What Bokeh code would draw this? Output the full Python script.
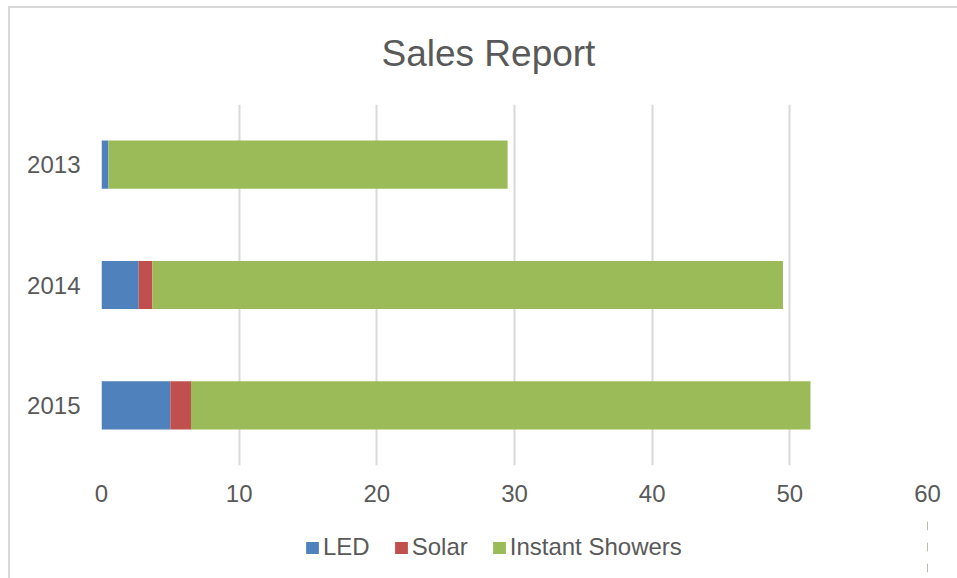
from bokeh.plotting import figure
from bokeh.models import ColumnDataSource, Range1d, FactorRange, Legend, LegendItem
from bokeh.layouts import column
from bokeh.embed import file_html
from bokeh.resources import INLINE

# Data
years = ["2013", "2014", "2015"]
led = [0.5, 2.7, 5.0]
solar = [0.0, 1.0, 1.5]
instant_showers = [29.0, 45.8, 45.0]
series_names = ["LED", "Solar", "Instant Showers"]
colors = ["#4F81BD", "#C0504D", "#9BBB59"]
x_ticks = [0, 10, 20, 30, 40, 50, 60]

FONT = "Liberation Sans"
TXT = "#595959"
GRID = "#d9d9d9"

src = ColumnDataSource(dict(year=years, LED=led, Solar=solar, IS=instant_showers))

border_bg = ("linear-gradient(#d9d9d9, #d9d9d9) 8px 6px / 2px 100% no-repeat, "
             "linear-gradient(#d9d9d9, #d9d9d9) 8px 6px / 100% 2px no-repeat")

p = figure(
    width=957, height=515,
    y_range=FactorRange(factors=years[::-1], range_padding=0),
    x_range=Range1d(0, 60),
    output_backend="svg", toolbar_location=None,
    min_border_left=101, min_border_right=30, min_border_top=103, min_border_bottom=50,
    title="Sales Report",
    border_fill_color=None,
)
p.outline_line_color = None

renderers = p.hbar_stack(["LED", "Solar", "IS"], y="year", height=0.4, color=colors,
                         line_color=None, source=src)

# Title
p.title.text_font = FONT
p.title.text_font_size = "37px"
p.title.text_font_style = "normal"
p.title.text_color = TXT
p.title.align = "left"
p.title.offset = 280
p.title.standoff = 61

# Axes
p.xaxis.ticker = x_ticks
p.xaxis.axis_line_color = None
p.xaxis.major_tick_line_color = None
p.xaxis.minor_tick_line_color = None
p.xaxis.major_tick_out = 0
p.xaxis.major_label_standoff = 19
p.xaxis.major_label_text_font = FONT
p.xaxis.major_label_text_font_size = "24px"
p.xaxis.major_label_text_color = TXT

p.yaxis.axis_line_color = None
p.yaxis.major_tick_line_color = None
p.yaxis.minor_tick_line_color = None
p.yaxis.major_tick_out = 0
p.yaxis.major_label_standoff = 21
p.yaxis.major_label_text_font = FONT
p.yaxis.major_label_text_font_size = "24px"
p.yaxis.major_label_text_color = TXT

p.xgrid.grid_line_color = GRID
p.xgrid.grid_line_width = 2
p.ygrid.grid_line_color = None

# Legend strip: a second figure below the chart; its bars lie outside its view,
# only the legend that refers to them is shown
p2 = figure(
    width=957, height=63,
    y_range=FactorRange(factors=years),
    x_range=Range1d(-2, -1),
    x_axis_type=None, y_axis_type=None,
    output_backend="svg", toolbar_location=None,
    min_border_left=0, min_border_right=0, min_border_top=0, min_border_bottom=0,
    border_fill_color=None, background_fill_color=None,
)
p2.outline_line_color = None
p2.grid.visible = False
leg_renderers = p2.hbar_stack(["LED", "Solar", "IS"], y="year", height=0.4, color=colors,
                              line_color=None, source=src)

legend = Legend(
    items=[LegendItem(label=n, renderers=[r]) for n, r in zip(series_names, leg_renderers)],
    location=(203, 17),
    orientation="horizontal",
    padding=0, margin=0, spacing=23,
    glyph_width=16, glyph_height=15, label_standoff=3,
    label_text_font=FONT, label_text_font_size="24px", label_text_color=TXT,
    border_line_color=None, background_fill_alpha=0,
)
p2.add_layout(legend, "center")

layout = column(p, p2, spacing=0, styles={"background": border_bg})

open("out.html", "w").write(file_html(layout, INLINE))
